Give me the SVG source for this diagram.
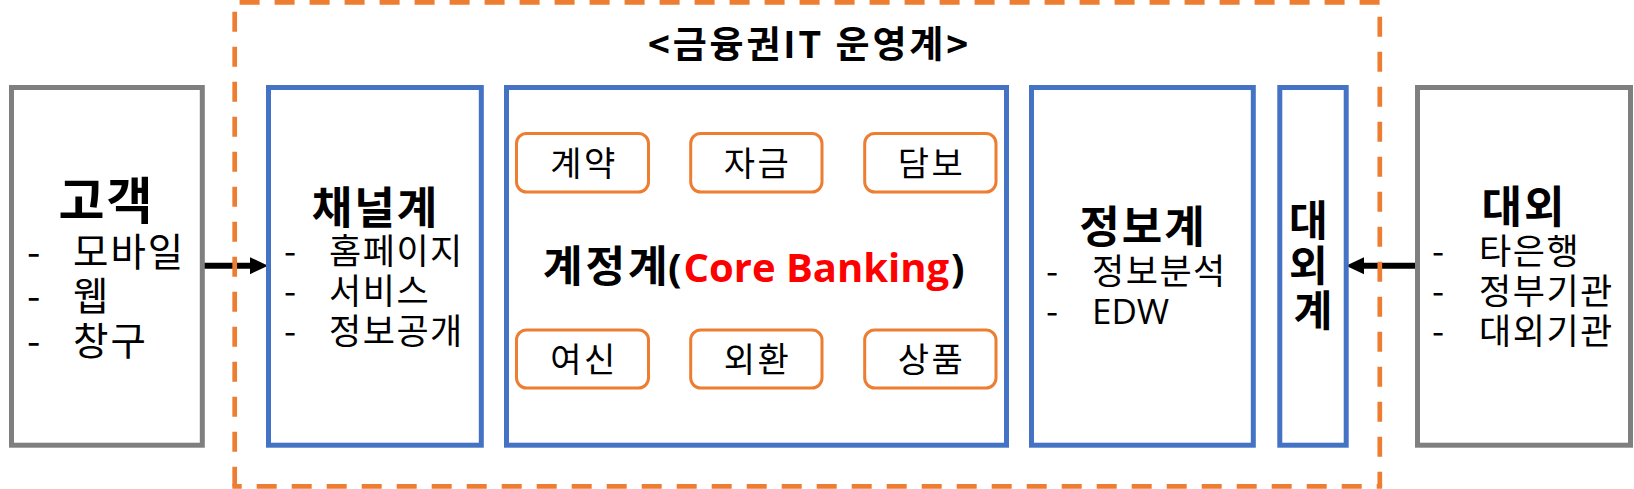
<svg xmlns="http://www.w3.org/2000/svg" width="1634" height="489" viewBox="0 0 1634 489">
<style>
.gray{fill:#fff;stroke:#7F7F7F;stroke-width:5}
.blue{fill:#fff;stroke:#4472C4;stroke-width:5}
.pill{fill:#fff;stroke:#ED7D31;stroke-width:3}
.frame{stroke:#ED7D31;stroke-width:4.7;stroke-dasharray:20 15;fill:none}
.ko{font-family:"Noto Sans CJK KR","Noto Sans CJK SC",sans-serif;fill:#000}
.lat{font-family:"Open Sans","Noto Sans",sans-serif}
.b{font-weight:bold}
.mid{text-anchor:middle}
.conn{stroke:#000;stroke-width:6;fill:none}
.item{font-size:35px;letter-spacing:1.5px}
.item2{font-size:38.5px;letter-spacing:2px}
.head{font-size:44px;letter-spacing:2px}
.pl{font-size:34px;letter-spacing:2.5px}
</style>
<defs>
<marker id="ah" markerUnits="userSpaceOnUse" markerWidth="19" markerHeight="18" refX="0" refY="8.5" orient="auto" overflow="visible">
<path d="M0,0 L18,8.5 L0,17 Z" fill="#000"/>
</marker>
</defs>
<rect x="0" y="0" width="1634" height="489" fill="#fff"/>

<g id="connectors">
<line class="conn" x1="202.3" y1="265.7" x2="250" y2="265.7" marker-end="url(#ah)"/>
<line class="conn" x1="1417.5" y1="265.7" x2="1364" y2="265.7" marker-end="url(#ah)"/>
</g>

<g id="it-frame">
<line class="frame" x1="232.35" y1="2.3" x2="1382.15" y2="2.3" stroke-dashoffset="27.75"/>
<line class="frame" x1="232.35" y1="486.3" x2="1382.15" y2="486.3" stroke-dashoffset="10.65"/>
<line class="frame" x1="234.7" y1="2.3" x2="234.7" y2="486.3" stroke-dashoffset="25.6"/>
<line class="frame" x1="1379.8" y1="2.3" x2="1379.8" y2="486.3" stroke-dashoffset="20.6"/>
<text class="ko b mid" x="808" y="58" font-size="37" textLength="320" lengthAdjust="spacing">&lt;금융권IT 운영계&gt;</text>
</g>

<g id="customer">
<rect class="gray" x="11.5" y="87.5" width="190.8" height="357.7"/>
<text class="ko b mid" x="106.5" y="219" font-size="50" letter-spacing="2">고객</text>
<text class="ko item2">
<tspan x="27" y="265.5">-</tspan><tspan x="73" y="265.5">모바일</tspan>
<tspan x="27" y="310">-</tspan><tspan x="73" y="310">웹</tspan>
<tspan x="27" y="354.5">-</tspan><tspan x="73" y="354.5">창구</tspan>
</text>
</g>

<g id="channel">
<rect class="blue" x="268.5" y="87.5" width="212.8" height="357.7"/>
<text class="ko b mid head" x="375.5" y="223.5">채널계</text>
<text class="ko item">
<tspan x="284" y="263.5">-</tspan><tspan x="329" y="263.5">홈페이지</tspan>
<tspan x="284" y="303.5">-</tspan><tspan x="329" y="303.5">서비스</tspan>
<tspan x="284" y="343.5">-</tspan><tspan x="329" y="343.5">정보공개</tspan>
</text>
</g>

<g id="core">
<rect class="blue" x="506.5" y="87.5" width="500" height="357.7"/>
<text class="b" font-size="40" y="282"><tspan class="ko" x="543" font-size="43" letter-spacing="3">계정계</tspan><tspan class="lat" x="668">(</tspan><tspan class="lat" x="683.5" fill="#FF0000">Core Banking</tspan><tspan class="lat" x="951">)</tspan></text>
</g>

<g id="core-contract">
<rect class="pill" x="516.5" y="133.5" width="132" height="58.5" rx="10"/>
<text class="ko mid pl" x="584" y="175.5">계약</text>
</g>
<g id="core-funds">
<rect class="pill" x="690.7" y="133.5" width="131.3" height="58.5" rx="10"/>
<text class="ko mid pl" x="757.6" y="175.5">자금</text>
</g>
<g id="core-collateral">
<rect class="pill" x="864.7" y="133.5" width="131.3" height="58.5" rx="10"/>
<text class="ko mid pl" x="931.6" y="175.5">담보</text>
</g>
<g id="core-loan">
<rect class="pill" x="516.5" y="330" width="132" height="58" rx="10"/>
<text class="ko mid pl" x="584" y="371.5">여신</text>
</g>
<g id="core-fx">
<rect class="pill" x="690.7" y="330" width="131.3" height="58" rx="10"/>
<text class="ko mid pl" x="757.6" y="371.5">외환</text>
</g>
<g id="core-product">
<rect class="pill" x="864.7" y="330" width="131.3" height="58" rx="10"/>
<text class="ko mid pl" x="931.6" y="371.5">상품</text>
</g>

<g id="info">
<rect class="blue" x="1031.5" y="87.5" width="221.8" height="357.7"/>
<text class="ko b mid head" x="1143" y="243">정보계</text>
<text class="ko item">
<tspan x="1046" y="284">-</tspan><tspan x="1092" y="284">정보분석</tspan>
<tspan x="1046" y="324">-</tspan><tspan class="lat" x="1092" y="324" letter-spacing="0">EDW</tspan>
</text>
</g>

<g id="external-gw">
<rect class="blue" x="1279.8" y="87.5" width="66.4" height="357.7"/>
<text class="ko b mid" font-size="42">
<tspan x="1313" y="236">대</tspan>
<tspan x="1313" y="281">외</tspan>
<tspan x="1313" y="326">계</tspan>
</text>
</g>

<g id="external">
<rect class="gray" x="1417.5" y="87.5" width="213" height="357.7"/>
<text class="ko b mid head" x="1524" y="223">대외</text>
<text class="ko item">
<tspan x="1432" y="263.5">-</tspan><tspan x="1479" y="263.5">타은행</tspan>
<tspan x="1432" y="303.5">-</tspan><tspan x="1479" y="303.5">정부기관</tspan>
<tspan x="1432" y="343.5">-</tspan><tspan x="1479" y="343.5">대외기관</tspan>
</text>
</g>
</svg>
